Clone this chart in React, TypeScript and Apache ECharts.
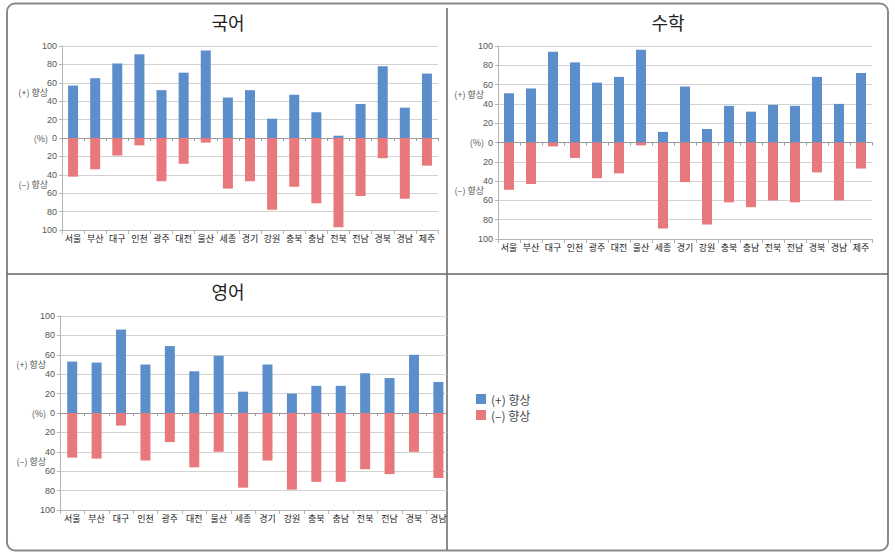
import React, { useEffect, useRef } from 'react';
import * as echarts from 'echarts';

const categories = ['서울', '부산', '대구', '인천', '광주', '대전', '울산', '세종', '경기', '강원', '충북', '충남', '전북', '전남', '경북', '경남', '제주'];

const koreanPlus = [57, 65, 81, 91, 52, 71, 95, 44, 52, 21, 47, 28, 2.5, 37, 78, 33, 70];
const koreanMinus = [42, 34, 19, 8, 47, 28, 5, 55, 47, 78, 53, 71, 97, 63, 22, 66, 30];

const mathPlus = [51, 56, 94, 83, 62, 68, 96, 11, 58, 14, 38, 32, 39, 38, 68, 40, 72];
const mathMinus = [49, 43, 4, 16, 37, 32, 3, 89, 41, 85, 62, 67, 60, 62, 31, 60, 27];

// 제주 is cut off in the reference, so its values are unknown (null)
const englishPlus: (number | null)[] = [53, 52, 86, 50, 69, 43, 59, 22, 50, 20, 28, 28, 41, 36, 60, 32, null];
const englishMinus: (number | null)[] = [46, 47, 13, 49, 30, 56, 40, 77, 49, 79, 71, 71, 58, 63, 40, 67, null];

const titles = ['국어', '수학', '영어'];
const seriesNames = ['(+) 향상', '(–) 향상'];
const sideLabels: Record<string, string> = { '50': '(+) 향상', '0': '(%)', '-50': '(–) 향상' };

const FONT = '"Liberation Sans", "Noto Sans CJK KR", sans-serif';
const KFONT = '"Noto Sans CJK KR", sans-serif';
const BLUE = '#5b8ecb';
const RED = '#e8787b';

function buildAxes(gridIndex: number, visible: (number | null)[] | null) {
  const xAxis = [
    {
      gridIndex, type: 'category', data: categories, position: 'bottom',
      axisLine: { onZero: false, lineStyle: { color: '#b4b4b4' } },
      axisTick: { show: true, interval: 0, length: 4, lineStyle: { color: '#b4b4b4' } },
      axisLabel: {
        interval: 0, fontSize: 9, color: '#222', margin: 4, fontFamily: KFONT,
        formatter: (v: string, i: number) => (visible && visible[i] == null ? '' : v),
      },
    },
    {
      gridIndex, type: 'category', data: categories, position: 'bottom',
      axisLine: { onZero: true, lineStyle: { color: '#9a9a9a' } },
      axisTick: { show: true, interval: 0, length: 3, lineStyle: { color: '#9a9a9a' } },
      axisLabel: { show: false },
    },
  ];
  const yAxis = [
    {
      gridIndex, type: 'value', min: -100, max: 100, interval: 20, position: 'left',
      axisLine: { show: true, lineStyle: { color: '#b4b4b4' } },
      axisTick: { show: true, length: 3, lineStyle: { color: '#b4b4b4' } },
      splitLine: { show: true, lineStyle: { color: '#d2d2d2' } },
      axisLabel: { fontSize: 9, color: '#555', margin: 5, fontFamily: FONT, formatter: (v: number) => String(Math.abs(v)) },
    },
    {
      gridIndex, type: 'value', min: -100, max: 100, interval: 50, position: 'left',
      axisLine: { show: false }, axisTick: { show: false }, splitLine: { show: false },
      axisLabel: { fontSize: 9, color: '#555', margin: 14, fontFamily: KFONT, formatter: (v: number) => sideLabels[String(v)] ?? '' },
    },
  ];
  return { xAxis, yAxis };
}

function buildSeries(gridIndex: number, plus: (number | null)[], minus: (number | null)[], barWidth: number) {
  const axisIdx = gridIndex * 2;
  return [
    {
      type: 'bar', name: seriesNames[0], xAxisIndex: axisIdx, yAxisIndex: axisIdx, stack: 's' + gridIndex,
      barWidth, itemStyle: { color: BLUE }, data: plus,
    },
    {
      type: 'bar', name: seriesNames[1], xAxisIndex: axisIdx, yAxisIndex: axisIdx, stack: 's' + gridIndex,
      barWidth, itemStyle: { color: RED }, data: minus.map((v) => (v == null ? null : -v)),
    },
  ];
}

export default function App() {
  const mainRef = useRef<HTMLDivElement>(null);
  const engRef = useRef<HTMLDivElement>(null);

  useEffect(() => {
    const main = echarts.init(mainRef.current!, undefined, { renderer: 'svg' });
    const eng = echarts.init(engRef.current!, undefined, { renderer: 'svg' });

    const a0 = buildAxes(0, null);
    const a1 = buildAxes(1, null);

    const titleText = (text: string, x: number, y: number) => ({
      type: 'text', x, y, z: 10,
      style: { text, fontSize: 18, fontFamily: KFONT, fill: '#222', align: 'center', verticalAlign: 'middle' },
    });

    main.setOption({
      animation: false,
      grid: [
        { left: 62, top: 46, width: 376, height: 184 },
        { left: 498, top: 46, width: 374, height: 193 },
      ],
      xAxis: [...a0.xAxis, ...a1.xAxis],
      yAxis: [...a0.yAxis, ...a1.yAxis],
      legend: {
        orient: 'vertical', left: 471, top: 388, itemWidth: 10, itemHeight: 10, itemGap: 4,
        icon: 'rect', data: seriesNames,
        textStyle: { fontSize: 12, color: '#444', fontFamily: KFONT },
      },
      graphic: [
        {
          type: 'rect', shape: { x: 7, y: 3.5, width: 881, height: 547, r: 8 },
          style: { fill: 'none', stroke: '#8a8a8a', lineWidth: 2 }, silent: true,
        },
        { type: 'line', shape: { x1: 447, y1: 8, x2: 447, y2: 550 }, style: { stroke: '#666', lineWidth: 1.5 }, silent: true },
        { type: 'line', shape: { x1: 7, y1: 274, x2: 888, y2: 274 }, style: { stroke: '#666', lineWidth: 1.5 }, silent: true },
        titleText(titles[0], 228, 22),
        titleText(titles[1], 668, 22),
        titleText(titles[2], 228, 291),
      ],
      series: [
        ...buildSeries(0, koreanPlus, koreanMinus, 10),
        ...buildSeries(1, mathPlus, mathMinus, 10),
      ],
    });

    const a2 = buildAxes(0, englishPlus);
    eng.setOption({
      animation: false,
      grid: [{ left: 53, top: 41, width: 415, height: 194 }],
      xAxis: a2.xAxis,
      yAxis: a2.yAxis,
      series: buildSeries(0, englishPlus, englishMinus, 10),
    });

    return () => {
      main.dispose();
      eng.dispose();
    };
  }, []);

  return (
    <div style={{ position: 'absolute', left: 0, top: 0, width: 895, height: 557, background: '#fff' }}>
      <div ref={mainRef} style={{ position: 'absolute', left: 0, top: 0, width: 895, height: 557 }} />
      <div style={{ position: 'absolute', left: 7, top: 275, width: 439.5, height: 274, overflow: 'hidden' }}>
        <div ref={engRef} style={{ width: 480, height: 274 }} />
      </div>
    </div>
  );
}
